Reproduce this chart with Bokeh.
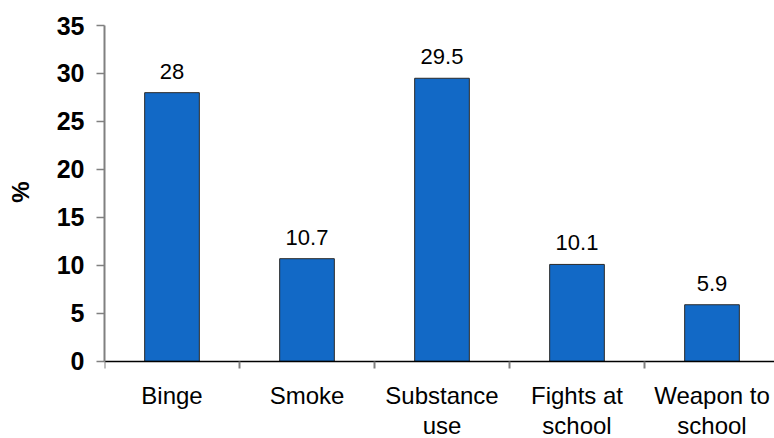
from bokeh.plotting import figure
from bokeh.models import ColumnDataSource, Range1d, FixedTicker, LabelSet
from bokeh.core.properties import value
from bokeh.embed import file_html
from bokeh.resources import INLINE

# Share of students reporting each behaviour (%)
categories = ["Binge", "Smoke", "Substance\nuse", "Fights at\nschool", "Weapon to\nschool"]
percent = [28, 10.7, 29.5, 10.1, 5.9]
value_labels = ["28", "10.7", "29.5", "10.1", "5.9"]
y_ticks = [0, 5, 10, 15, 20, 25, 30, 35]

centers = [i + 0.5 for i in range(len(categories))]
source = ColumnDataSource(dict(x=centers, top=percent, label=value_labels))

FONT = "Liberation Sans"

# the frame runs to the bottom edge; the x axis sits at y = 0 inside it,
# leaving room beneath for the two-line category names
p = figure(width=774, height=438, output_backend="svg", toolbar_location=None,
           x_range=Range1d(0, 4.963), y_range=Range1d(-8.04, 35),
           min_border_left=104, min_border_right=0, min_border_top=25, min_border_bottom=0,
           background_fill_color="white", border_fill_color="white", outline_line_color=None)

p.vbar(x="x", top="top", width=0.405, bottom=0, source=source,
       fill_color="#1269C6", line_color="#2a2a2a", line_width=1)

# value printed above each bar
p.add_layout(LabelSet(x="x", y="top", text="label", source=source,
                      text_align="center", text_baseline="alphabetic", y_offset=14,
                      text_font=value(FONT), text_font_size="22px", text_color="#000000"))

p.xgrid.visible = False
p.ygrid.visible = False

# x axis: names under each bar, short ticks on the category boundaries
xa = p.xaxis[0]
xa.fixed_location = 0
xa.ticker = FixedTicker(ticks=centers, minor_ticks=list(range(len(categories) + 1)))
xa.major_label_overrides = {c: lab for c, lab in zip(centers, categories)}
xa.major_tick_out = 0
xa.major_tick_in = 0
xa.minor_tick_out = 7
xa.minor_tick_in = 0
xa.minor_tick_line_color = "#808080"
xa.minor_tick_line_width = 2
xa.axis_line_color = "#000000"
xa.axis_line_width = 1.5
xa.major_label_text_font = FONT
xa.major_label_text_font_size = "24px"
xa.major_label_text_line_height = 1.1
xa.major_label_text_color = "#000000"
xa.major_label_standoff = 14

ya = p.yaxis[0]
ya.bounds = (0, 35)
ya.ticker = FixedTicker(ticks=y_ticks)
ya.minor_tick_line_color = None
ya.major_tick_out = 8
ya.major_tick_in = 0
ya.major_tick_line_color = "#808080"
ya.major_tick_line_width = 1.5
ya.axis_line_color = "#808080"
ya.axis_line_width = 2
ya.major_label_text_font = FONT
ya.major_label_text_font_size = "25px"
ya.major_label_text_font_style = "bold"
ya.major_label_text_color = "#000000"
ya.major_label_standoff = 12
# padded with no-break spaces so the symbol sits level with the 0-35 span
ya.axis_label = "\u00a0" * 12 + "%"
ya.axis_label_text_font = FONT
ya.axis_label_text_font_size = "24px"
ya.axis_label_text_font_style = "bold"
ya.axis_label_text_color = "#000000"
ya.axis_label_standoff = 20

open("out.html", "w").write(file_html(p, INLINE))
